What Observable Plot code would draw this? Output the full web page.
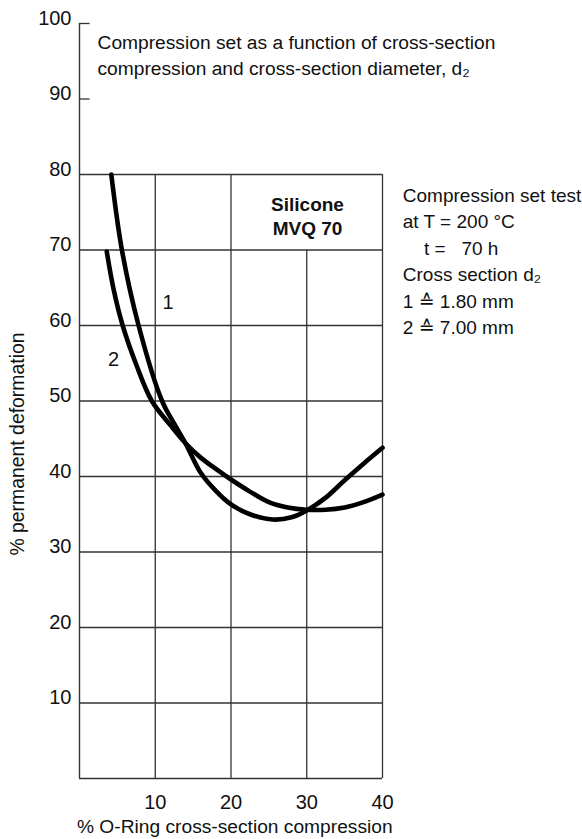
<!DOCTYPE html>
<html>
<head>
<meta charset="utf-8">
<script src="https://cdn.jsdelivr.net/npm/d3@7"></script>
<script src="https://cdn.jsdelivr.net/npm/@observablehq/plot@0.6"></script>
<style>
  html, body { margin: 0; padding: 0; background: #fff; }
  svg text { white-space: pre; }
</style>
</head>
<body>
<div id="chart"></div>
<script>
// Curve 1: cross section d2 = 1.80 mm
const curve1X = [4.2, 5.6, 7.8, 10.9, 12.5, 14, 16, 18, 20, 22.5, 25.5, 28, 30, 32.5, 35, 37.5, 40];
const curve1Y = [80, 70, 60, 50, 47.0, 44.4, 40.5, 38.1, 36.3, 35.0, 34.3, 34.6, 35.5, 37.2, 39.5, 41.7, 43.8];
// Curve 2: cross section d2 = 7.00 mm
const curve2X = [3.6, 4.5, 5.7, 7.5, 9.55, 12, 14, 16, 18, 20, 22.5, 25, 27.5, 30, 32.5, 35, 37.5, 40];
const curve2Y = [69.8, 64.8, 60, 54.8, 50, 46.8, 44.4, 42.5, 41.0, 39.6, 38.0, 36.6, 35.9, 35.6, 35.6, 35.9, 36.6, 37.6];

// Axis ticks
const xTicks = [10, 20, 30, 40];
const yTicks = [10, 20, 30, 40, 50, 60, 70, 80, 90, 100];
// Grid
const gridRowsY = [0, 10, 20, 30, 40, 50, 60, 70, 80];
const gridColsFull = [10, 20, 40];
const gridColsShort = [30];
const axisOnlyTicks = [90, 100];

// Text
const titleText = "Compression set as a function of cross-section\ncompression and cross-section diameter, d\u2082";
const infoText = "Compression set test\nat T = 200 \u00B0C\n    t =   70 h\nCross section d\u2082\n1 \u2259 1.80 mm\n2 \u2259 7.00 mm";
const materialText = "Silicone\nMVQ 70";
const curveLabels = ["1", "2"];
const curveLabelX = [11.7, 4.5];
const curveLabelY = [63.0, 55.5];
const xLabel = "% O-Ring cross-section compression";
const yLabel = "% permanent deformation";

const font = "'Liberation Sans', Arial, Helvetica, 'DejaVu Sans', sans-serif";

const rows = [];
curve1X.forEach((x, i) => rows.push({series: "1", x, y: curve1Y[i]}));
curve2X.forEach((x, i) => rows.push({series: "2", x, y: curve2Y[i]}));

const gridStroke = "#333";

const chart = Plot.plot({
  width: 582,
  height: 839,
  marginLeft: 79,
  marginRight: 200,
  marginTop: 23,
  marginBottom: 61,
  x: {domain: [0, 40]},
  y: {domain: [0, 100]},
  style: {fontFamily: font, background: "#fff", color: "#111"},
  marks: [
    // grid rows
    Plot.ruleY(gridRowsY, {x1: 0, x2: 40, stroke: gridStroke, strokeWidth: 1.3}),
    // grid columns
    Plot.ruleX(gridColsFull, {y1: 0, y2: 80, stroke: gridStroke, strokeWidth: 1.3}),
    Plot.ruleX(gridColsShort, {y1: 0, y2: 70, stroke: gridStroke, strokeWidth: 1.3}),
    // left axis line up to 100
    Plot.ruleX([0], {y1: 0, y2: 100, stroke: gridStroke, strokeWidth: 1.4}),
    Plot.ruleY(axisOnlyTicks, {x1: 0, x2: 1.4, stroke: gridStroke, strokeWidth: 1.3}),
    // axes
    Plot.axisY(yTicks, {tickSize: 0, tickPadding: 8, fontSize: 20, dy: -5, label: null, fill: "#111"}),
    Plot.axisX(xTicks, {tickSize: 0, tickPadding: 16, fontSize: 20, label: null, fill: "#111"}),
    // curves
    Plot.line(rows, {x: "x", y: "y", z: "series", curve: "catmull-rom", stroke: "#000", strokeWidth: 4.6}),
    // curve labels
    Plot.text(curveLabels, {x: (d, i) => curveLabelX[i], y: (d, i) => curveLabelY[i], text: d => d, fontSize: 20, fill: "#111"}),
    // title
    Plot.text([titleText], {x: 2.38, y: 99.06, text: d => d, textAnchor: "start", lineAnchor: "top", lineHeight: 1.36, fontSize: 19.2, fill: "#111"}),
    // material
    Plot.text([materialText], {x: 30.1, y: 77.38, text: d => d, textAnchor: "middle", lineAnchor: "top", lineHeight: 1.26, fontSize: 19, fontWeight: "bold", fill: "#111"}),
    // info block
    Plot.text([infoText], {x: 42.68, y: 78.83, text: d => d, textAnchor: "start", lineAnchor: "top", lineHeight: 1.39, fontSize: 19, fill: "#111"}),
    // axis labels
    Plot.text([xLabel], {x: 20.5, y: -5.43, text: d => d, textAnchor: "middle", lineAnchor: "top", fontSize: 19.2, fill: "#111"}),
    Plot.text([yLabel], {x: -8.13, y: 44.3, text: d => d, rotate: -90, textAnchor: "middle", lineAnchor: "middle", fontSize: 19.4, fill: "#111"})
  ]
});
document.getElementById("chart").appendChild(chart);
</script>
</body>
</html>
